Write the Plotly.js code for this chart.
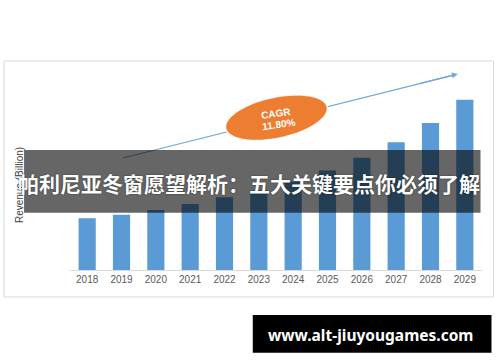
<!DOCTYPE html>
<html>
<head>
<meta charset="utf-8">
<script src="https://cdn.plot.ly/plotly-3.0.1.min.js"></script>
<style>html,body{margin:0;padding:0;background:#fff;}#chart{width:500px;height:362px;}</style>
</head>
<body>
<div id="chart"></div>
<script>
// Data
const years = ['2018','2019','2020','2021','2022','2023','2024','2025','2026','2027','2028','2029'];
const revenue = [5.17, 5.53, 6.0, 6.6, 7.27, 7.93, 8.83, 9.95, 11.23, 12.77, 14.7, 17.03];
const cagrLabel = ['CAGR', '11.80%'];
const yTitle = 'Revenue (Billion)';
const overlayTitle = '帕利尼亚冬窗愿望解析：五大关键要点你必须了解';
const siteLabel = 'www.alt-jiuyougames.com';

// layout geometry (pixels)
const W = 500, H = 362;
const mL = 70, mR = 17.5, mT = 70, mB = 92;
const pw = W - mL - mR, ph = H - mT - mB;
const px = v => (v - mL) / pw;         // pixel x -> paper
const py = v => (H - mB - v) / ph;     // pixel y -> paper

// rotated ellipse path (decoration)
function ellipsePath(cx, cy, a, b, deg) {
  const th = deg * Math.PI / 180;
  let d = '';
  const n = 72;
  for (let i = 0; i <= n; i++) {
    const t = 2 * Math.PI * i / n;
    const x = cx + a * Math.cos(t) * Math.cos(th) - b * Math.sin(t) * Math.sin(th);
    const y = cy - (a * Math.cos(t) * Math.sin(th) + b * Math.sin(t) * Math.cos(th));
    d += (i === 0 ? 'M' : 'L') + px(x).toFixed(5) + ',' + py(y).toFixed(5);
  }
  return d + 'Z';
}

const trace = {
  type: 'bar',
  x: years,
  y: revenue,
  marker: {color: '#5b9bd5', line: {width: 0}},
  hoverinfo: 'none'
};

const layout = {
  width: W, height: H,
  margin: {l: mL, r: mR, t: mT, b: mB, pad: 0},
  paper_bgcolor: '#ffffff',
  plot_bgcolor: '#ffffff',
  showlegend: false,
  bargap: 0.5,
  xaxis: {
    type: 'category',
    range: [-0.5, 11.5],
    showline: true, linecolor: '#d9d9d9', linewidth: 1,
    ticks: '', showgrid: false, zeroline: false,
    tickfont: {family: 'Liberation Sans, Arial, sans-serif', size: 10, color: '#595959'}
  },
  yaxis: {
    range: [0, 20],
    showticklabels: false, showgrid: false, zeroline: false, showline: false, ticks: ''
  },
  shapes: [
    // chart frame
    {type: 'rect', xref: 'paper', yref: 'paper', x0: px(4), x1: px(494), y0: py(297), y1: py(61),
     line: {color: '#d9d9d9', width: 1}, fillcolor: 'rgba(0,0,0,0)', layer: 'below'},
    // trend arrow line
    {type: 'line', xref: 'paper', yref: 'paper', x0: px(123), y0: py(158), x1: px(453), y1: py(75.3),
     line: {color: '#6fa8dc', width: 1.2}, layer: 'above'},
    // CAGR ellipse
    {type: 'path', xref: 'paper', yref: 'paper', path: ellipsePath(276.7, 117.7, 52, 20.5, 12),
     fillcolor: '#ed7d31', line: {color: 'rgba(255,255,255,0.85)', width: 1.5}, layer: 'above'},
    // dark title band
    {type: 'rect', xref: 'paper', yref: 'paper', x0: px(24), x1: px(481), y0: py(212.7), y1: py(150),
     fillcolor: 'rgba(0,0,0,0.6)', line: {width: 0}, layer: 'above'},
    // site label box
    {type: 'rect', xref: 'paper', yref: 'paper', x0: px(253), x1: px(492), y0: py(352.7), y1: py(315),
     fillcolor: '#000000', line: {width: 0}, layer: 'above'}
  ],
  annotations: [
    // arrow head
    {xref: 'paper', yref: 'paper', x: px(458.3), y: py(74), ax: -40, ay: 10, text: '',
     showarrow: true, arrowhead: 2, arrowsize: 1, arrowwidth: 1.2, arrowcolor: '#6fa8dc', standoff: 0},
    // CAGR text
    {xref: 'paper', yref: 'paper', x: px(276.5), y: py(113), text: cagrLabel[0], showarrow: false,
     textangle: -8, xanchor: 'center', yanchor: 'middle',
     font: {family: 'Liberation Sans, Arial, sans-serif', size: 10, color: '#ffffff', weight: 'bold'}},
    {xref: 'paper', yref: 'paper', x: px(278.3), y: py(124), text: cagrLabel[1], showarrow: false,
     textangle: -8, xanchor: 'center', yanchor: 'middle',
     font: {family: 'Liberation Sans, Arial, sans-serif', size: 10, color: '#ffffff', weight: 'bold'}},
    // y axis title
    {xref: 'paper', yref: 'paper', x: px(19), y: py(185), text: yTitle, showarrow: false,
     textangle: -90, xanchor: 'center', yanchor: 'middle',
     font: {family: 'Liberation Sans, Arial, sans-serif', size: 10, color: '#404040'}},
    // overlay title
    {xref: 'paper', yref: 'paper', x: px(249), y: py(182.5), text: overlayTitle, showarrow: false,
     xanchor: 'center', yanchor: 'middle',
     font: {family: 'Noto Sans CJK SC, sans-serif', size: 21, color: '#ffffff', weight: 'bold',
            shadow: '0px 0px 1.5px rgba(0,0,0,0.7)'}},
    // site label
    {xref: 'paper', yref: 'paper', x: px(371), y: py(334.5), text: siteLabel, showarrow: false,
     xanchor: 'center', yanchor: 'middle',
     font: {family: 'Noto Sans, sans-serif', size: 15.5, color: '#ffffff', weight: 'bold'}}
  ]
};

Plotly.newPlot('chart', [trace], layout, {staticPlot: true, displayModeBar: false});
</script>
</body>
</html>
